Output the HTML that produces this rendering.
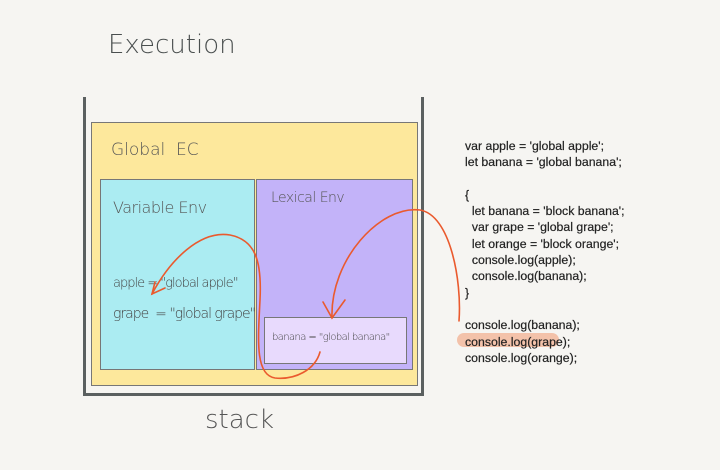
<!DOCTYPE html>
<html><head><style>
body{margin:0;width:720px;height:470px;background:#f6f5f2;position:relative;overflow:hidden;font-family:"Liberation Sans",sans-serif}
.a{position:absolute}
.hand{font-family:"DejaVu Sans",sans-serif;color:#555;font-weight:300;white-space:nowrap}
.code{position:absolute;left:465px;top:138px;font-size:12.3px;line-height:16.3px;color:#222;white-space:pre;font-weight:500;-webkit-text-stroke:0.2px #222}
</style></head><body>
<div class="a hand" style="left:108px;top:30px;font-size:26px;letter-spacing:0px;color:#4a4f4f">Execution</div>
<div class="a" style="left:83px;top:97px;width:3px;height:299px;background:#5b6060"></div>
<div class="a" style="left:421px;top:97px;width:3px;height:299px;background:#5b6060"></div>
<div class="a" style="left:83px;top:393px;width:341px;height:3px;background:#5b6060"></div>
<div class="a" style="left:91px;top:122px;width:325px;height:262px;background:#fde89c;border:1px solid #777"></div>
<div class="a hand" style="left:111px;top:140px;font-size:17px">Global&nbsp; EC</div>
<div class="a" style="left:100px;top:179px;width:153px;height:189px;background:#abecf2;border:1px solid #777"></div>
<div class="a" style="left:256px;top:179px;width:155px;height:189px;background:#c3b3f9;border:1px solid #777"></div>
<div class="a hand" style="left:113px;top:198px;font-size:16px;letter-spacing:-0.5px">Variable Env</div>
<div class="a hand" style="left:271px;top:190px;font-size:14px;letter-spacing:-0.5px">Lexical Env</div>
<div class="a" style="left:264px;top:317px;width:141px;height:45px;background:#e8dafd;border:1px solid #777"></div>
<div class="a hand" style="left:272px;top:332px;font-size:10px;letter-spacing:-0.6px;color:#444">banana = "global banana"</div>
<div class="a hand" style="left:113px;top:276px;font-size:13px;letter-spacing:-1px;color:#444">apple = "global apple"</div>
<div class="a hand" style="left:113px;top:306px;font-size:14px;letter-spacing:-1px;color:#444">grape &nbsp;= "global grape"</div>
<div class="a hand" style="left:205px;top:405px;font-size:26px">stack</div>
<div class="a" style="left:457px;top:333px;width:102px;height:14px;background:#f2b89e;border-radius:7px;opacity:.85"></div>
<div class="code">var apple = 'global apple';
let banana = 'global banana';

{
  let banana = 'block banana';
  var grape = 'global grape';
  let orange = 'block orange';
  console.log(apple);
  console.log(banana);
}

console.log(banana);
console.log(grape);
console.log(orange);</div>
<svg class="a" style="left:0;top:0" width="720" height="470">
<g fill="none" stroke="#ea5a2e" stroke-width="1.6" stroke-linecap="round">
<path d="M459,321 C462,280 450,215 420,210 C380,205 330,260 332,318"/>
<path d="M323,302 L332,318 L345,300"/>
<path d="M320,352 C315,370 295,380 275,378 C255,375 258,340 260,300 C262,260 255,240 230,235 C200,230 170,260 152,294"/>
<path d="M155,282 L152,294 L165,288"/>
</g></svg>
</body></html>
